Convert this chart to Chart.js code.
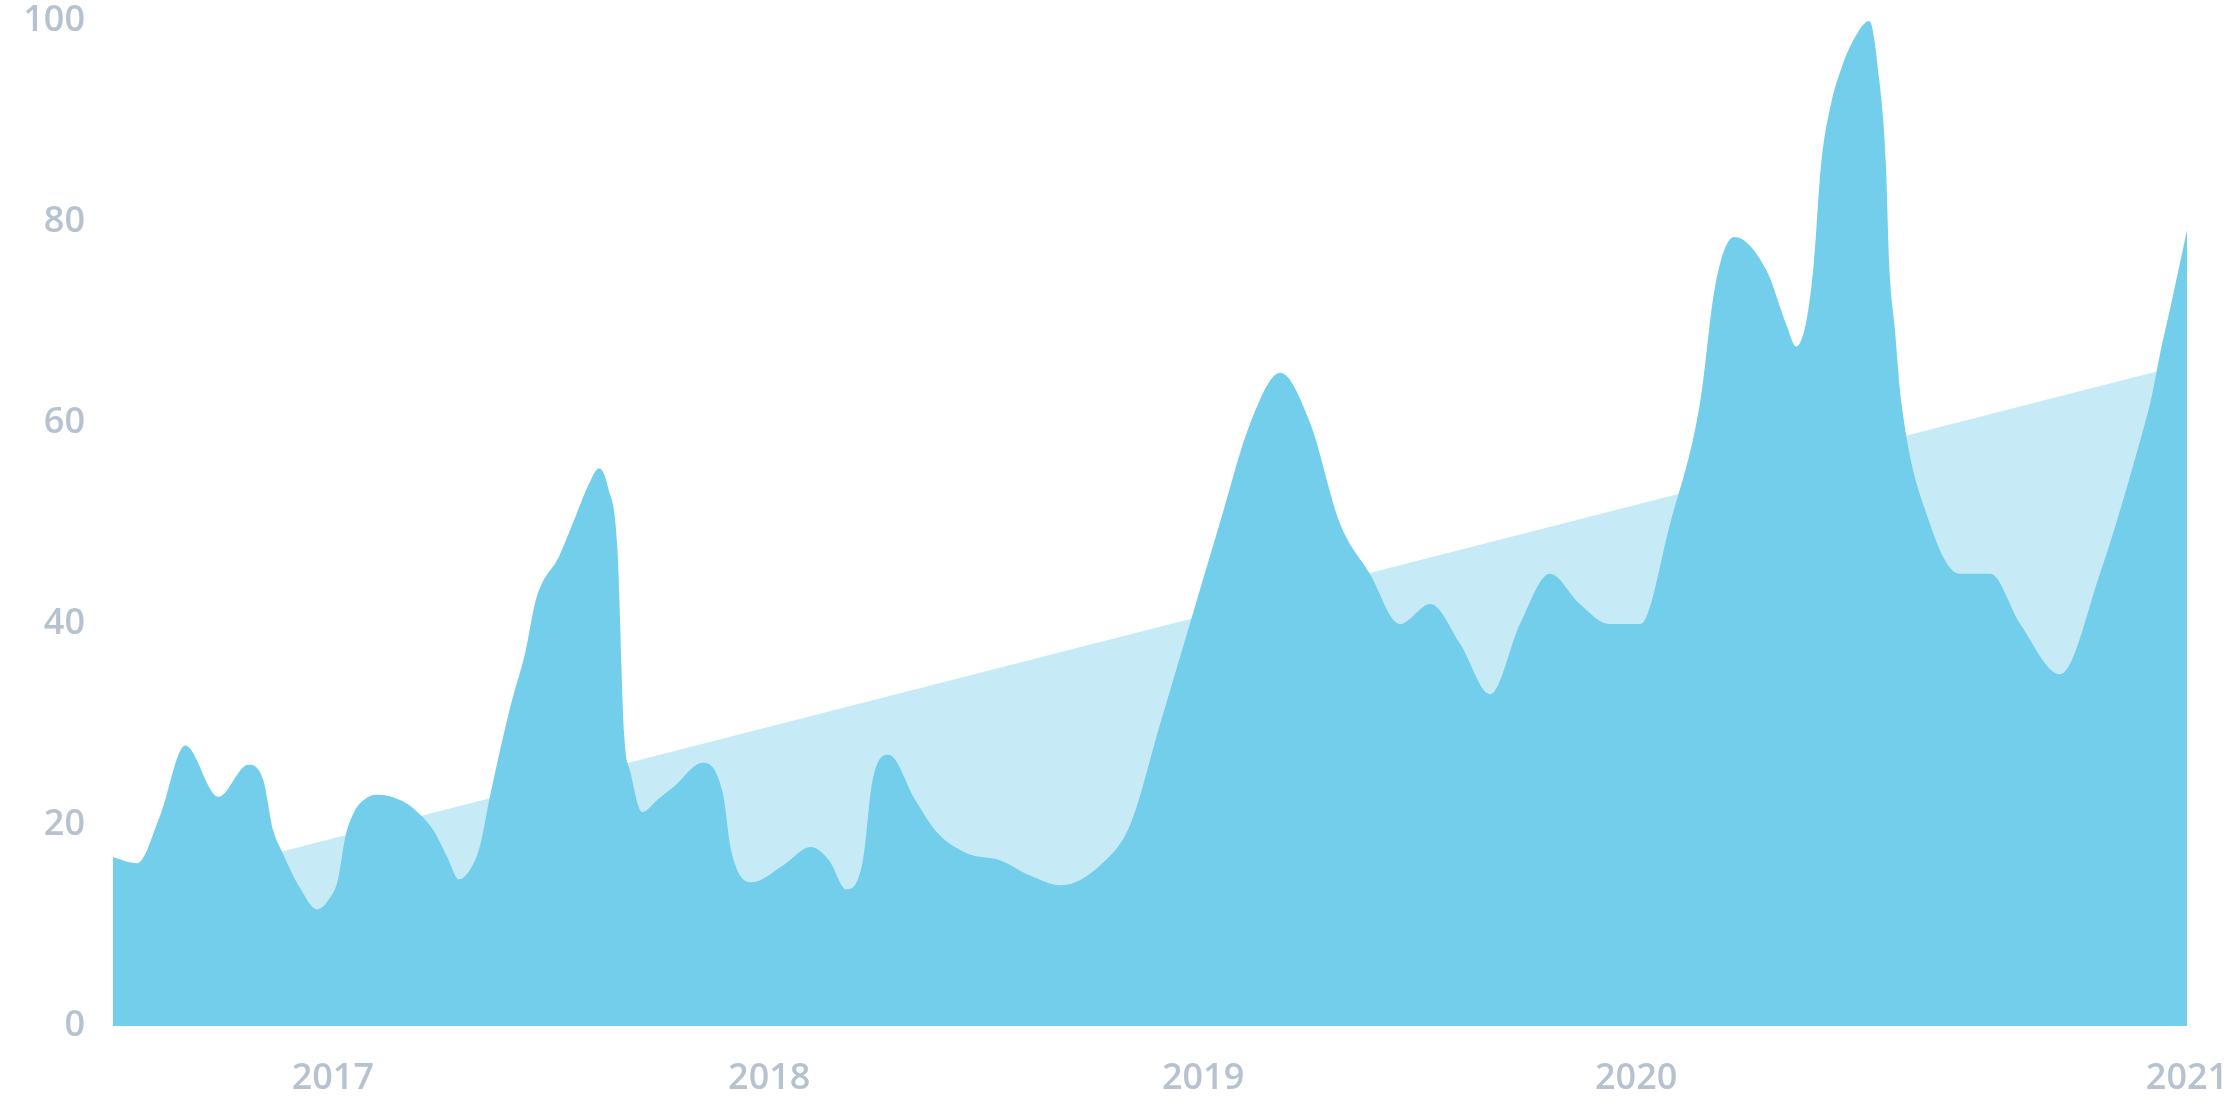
<!DOCTYPE html>
<html>
<head>
<meta charset="utf-8">
<script src="https://cdn.jsdelivr.net/npm/chart.js@4.4.1/dist/chart.umd.min.js"></script>
<style>
  html, body { margin: 0; padding: 0; background: #ffffff; }
  #wrap { width: 2240px; height: 1120px; position: relative; }
</style>
</head>
<body>
<div id="wrap"><canvas id="c" width="2240" height="1120"></canvas></div>
<script>
// ---- data (x = weeks from start of series, y = value) ----
const weeks = [0, 2.9, 5.7, 8.7, 12.7, 16.3, 18.1, 19.3, 20.4, 22.5, 24.6, 26.2, 27.1, 28.0, 29.0, 30.6, 31.9, 34.6, 36.0, 38.6, 40.3, 41.7, 43.0, 44.2, 45.4, 46.4, 47.9, 49.7, 51.0, 53.8, 55.8, 57.3, 58.6, 59.7, 60.8, 61.6, 62.4, 63.8, 65.6, 67.6, 71.1, 73.5, 74.5, 77.0, 80.8, 84.1, 86.3, 88.4, 90.4, 91.5, 93.5, 96.7, 99.4, 102.9, 106.9,
  110.5, 114.2, 119.0, 122.6, 126.2, 129.8, 133.4, 137.1, 140.7, 144.3, 147.9, 151.5, 155.1, 158.8, 162.4, 166.0, 169.6, 173.2, 176.8, 180.4, 184.1, 187.7, 191.3, 193.1, 195.4, 199.3, 201.7, 202.9, 204.2, 205.0, 205.9, 207.1, 208.3, 209.6, 211.7, 212.9, 213.7, 214.1, 214.8, 215.5, 219.0, 222.6, 226.3, 229.9, 234.7, 239.5, 244.1, 245.7, 246.9, 248.0, 250];
const values = [16.8, 16.2, 21, 27.9, 22.8, 26, 24.5, 19.5, 17.3, 13.8, 11.6, 12.8, 14.5, 18.8, 21.2, 22.7, 23, 22.5, 21.8, 19.5, 16.8, 14.6, 15.5, 17.8, 22.7, 26.5, 31.8, 37.2, 42.5, 46.8, 50.8, 53.8, 55.5, 53.5, 47.5, 29.2, 25.2, 21.3, 22.5, 23.8, 26.2, 23.2, 17.5, 14.3, 16, 17.8, 16.5, 13.6, 16.5, 24.2, 27, 22.5, 19.2, 17.2, 16.5,
  15, 14, 16, 20, 30, 40, 50, 60, 65, 60, 50, 45, 40, 42, 38, 33, 40, 45, 42, 40, 40, 50, 62, 73.5, 78.5, 75.2, 69.8, 67.6, 70.5, 75.8, 85.8, 91.8, 95.2, 97.8, 100, 94.2, 85.8, 75.8, 69.2, 62.5, 50, 45, 45, 40, 35, 45, 57.5, 62.5, 67.5, 71.5, 79.2];
const trendWeeks = [0, 250];
const trendValues = [13.05, 65.9];
const yearLabels = ['2017', '2018', '2019', '2020', '2021'];
const yearWeeks = [26.5, 79.1, 131.4, 183.6, 250];
const yTicks = [0, 20, 40, 60, 80, 100];

const mainPts = weeks.map((w, i) => ({ x: w, y: values[i] }));
const trendPts = trendWeeks.map((w, i) => ({ x: w, y: trendValues[i] }));

const labelFont = { family: "'Open Sans', sans-serif", size: 36, weight: '600' };
const labelColor = '#b6c2cf';

new Chart(document.getElementById('c'), {
  type: 'line',
  data: {
    datasets: [
      {
        data: mainPts,
        fill: 'origin',
        backgroundColor: '#72ceeb',
        borderWidth: 0,
        pointRadius: 0,
        tension: 0.4,
        cubicInterpolationMode: 'monotone',
        order: 0
      },
      {
        data: trendPts,
        fill: 'origin',
        backgroundColor: '#c7ebf6',
        borderWidth: 0,
        pointRadius: 0,
        tension: 0,
        order: 1
      }
    ]
  },
  options: {
    responsive: false,
    animation: false,
    devicePixelRatio: 1,
    layout: { padding: { top: 0, right: 53, bottom: 0, left: 0 } },
    plugins: { legend: { display: false }, tooltip: { enabled: false } },
    scales: {
      x: {
        type: 'linear',
        min: 0,
        max: 250,
        grid: { display: false, drawTicks: false },
        border: { display: false },
        afterBuildTicks: (scale) => { scale.ticks = yearWeeks.map(v => ({ value: v })); },
        afterFit: (scale) => { scale.height = 94; scale.paddingLeft = 0; scale.paddingRight = 0; },
        ticks: {
          autoSkip: false,
          maxRotation: 0,
          padding: 31,
          font: labelFont,
          color: labelColor,
          callback: (v) => { const i = yearWeeks.indexOf(v); return i >= 0 ? yearLabels[i] : ''; }
        }
      },
      y: {
        min: 0,
        max: 100,
        grid: { display: false, drawTicks: false },
        border: { display: false },
        afterBuildTicks: (scale) => { scale.ticks = yTicks.map(v => ({ value: v })); },
        afterFit: (scale) => { scale.width = 113; scale.paddingTop = 21; scale.paddingBottom = 0; },
        ticks: {
          padding: 28,
          font: labelFont,
          color: labelColor
        }
      }
    }
  }
});
</script>
</body>
</html>
